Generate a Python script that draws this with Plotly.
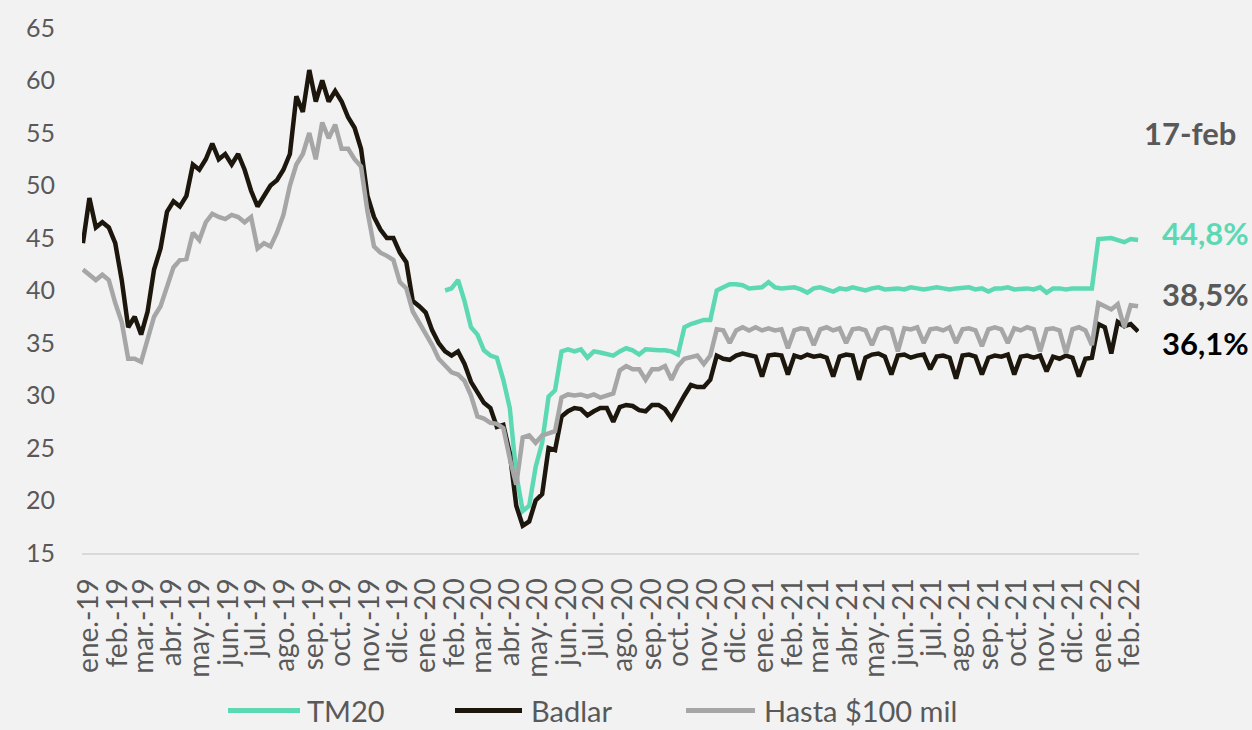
import pandas as pd
import plotly.graph_objects as go

# Weekly observations (%), first 2019-01-02, last point 2022-02-17
dates = list(pd.date_range("2019-01-02", periods=163, freq="7D")) + [pd.Timestamp("2022-02-17")]

badlar = [
    44.5, 48.8, 46.0, 46.5, 46.0, 44.5, 41.0, 36.5, 37.5, 35.8,
    38.0, 42.0, 44.0, 47.5, 48.5, 48.0, 49.0, 52.0, 51.5, 52.5,
    54.0, 52.5, 53.0, 52.0, 53.0, 51.5, 49.5, 48.0, 49.0, 50.0,
    50.5, 51.5, 53.0, 58.5, 57.0, 61.0, 58.0, 60.0, 58.0, 59.0,
    58.0, 56.5, 55.5, 53.5, 49.0, 47.0, 45.8, 45.0, 45.0, 43.6,
    42.7, 39.0, 38.5, 37.9, 36.2, 35.0, 34.2, 33.8, 34.2, 33.0,
    31.3, 30.2, 29.3, 28.8, 27.0, 27.2, 24.5, 19.5, 17.6, 18.0,
    20.0, 20.6, 25.0, 24.8, 28.0, 28.5, 28.8, 28.7, 28.1, 28.5,
    28.8, 28.8, 27.5, 28.9, 29.1, 29.0, 28.6, 28.5, 29.1, 29.1,
    28.7, 27.8, 29.0, 30.0, 31.0, 30.8, 30.8, 31.5, 33.8, 33.5,
    33.4, 33.8, 34.0, 33.8, 33.7, 31.8, 33.8, 33.9, 33.8, 32.0,
    33.8, 33.6, 33.9, 33.7, 33.8, 33.6, 31.8, 33.7, 33.9, 33.8,
    31.5, 33.6, 33.9, 34.0, 33.7, 32.0, 33.8, 33.9, 33.6, 33.8,
    33.9, 32.5, 33.7, 33.8, 33.6, 31.6, 33.8, 33.9, 33.7, 32.0,
    33.6, 33.8, 33.7, 33.9, 32.0, 33.7, 33.8, 33.6, 33.8, 32.3,
    33.7, 33.5, 33.8, 33.6, 31.8, 33.5, 33.6, 36.8, 36.5, 34.0,
    37.0, 36.6, 36.8, 36.1,
]

hasta_100 = [
    42.0, 41.5, 41.0, 41.5, 41.0, 38.8, 37.0, 33.5, 33.5, 33.2,
    35.5, 37.5, 38.5, 40.5, 42.2, 42.9, 43.0, 45.5, 44.8, 46.5,
    47.3, 47.0, 46.8, 47.2, 47.0, 46.5, 47.0, 44.0, 44.5, 44.2,
    45.5, 47.2, 50.0, 52.0, 53.0, 55.0, 52.5, 56.0, 54.5, 55.8,
    53.5, 53.5, 52.5, 51.8, 47.5, 44.2, 43.6, 43.3, 42.9, 40.8,
    40.2, 38.0, 37.0, 36.0, 34.8, 33.5, 32.8, 32.2, 32.0, 31.4,
    30.0, 28.0, 27.8, 27.4, 27.3, 26.9, 24.0, 21.5, 26.0, 26.2,
    25.5, 26.2, 26.4, 26.6, 29.8, 30.1, 30.0, 30.1, 29.9, 30.1,
    29.8, 30.0, 30.2, 32.4, 32.8, 32.5, 32.5, 31.5, 32.5, 32.5,
    32.8, 31.5, 32.8, 33.5, 33.6, 33.8, 33.0, 33.8, 36.3, 36.2,
    35.0, 36.2, 36.5, 36.2, 36.5, 36.2, 36.4, 36.2, 36.3, 34.5,
    36.2, 36.4, 36.3, 34.8, 36.3, 36.5, 36.2, 36.4, 35.0, 36.3,
    36.4, 36.2, 34.8, 36.3, 36.5, 36.3, 34.2, 36.4, 36.3, 36.5,
    35.0, 36.3, 36.4, 36.2, 36.5, 35.0, 36.3, 36.4, 36.2, 34.7,
    36.3, 36.5, 36.3, 35.0, 36.4, 36.2, 36.5, 36.3, 34.2, 36.3,
    36.4, 36.2, 34.0, 36.3, 36.5, 36.2, 34.8, 38.8, 38.5, 38.2,
    38.7, 36.5, 38.6, 38.5,
]

# TM20 series begins in late January 2020
tm20 = [None] * 56 + [
    40.0, 40.2, 41.0, 39.0,
    36.5, 35.8, 34.3, 33.8, 33.6, 31.5, 28.8, 22.5, 19.0, 19.5,
    23.2, 25.5, 29.9, 30.5, 34.2, 34.4, 34.2, 34.4, 33.6, 34.2,
    34.1, 34.0, 33.8, 34.2, 34.5, 34.3, 33.9, 34.4, 34.3, 34.3,
    34.3, 34.2, 33.9, 36.5, 36.8, 37.0, 37.2, 37.2, 40.0, 40.3,
    40.6, 40.6, 40.5, 40.2, 40.2, 40.3, 40.8, 40.3, 40.2, 40.2,
    40.3, 40.1, 39.8, 40.2, 40.3, 40.1, 39.9, 40.2, 40.1, 40.3,
    40.2, 40.0, 40.2, 40.3, 40.1, 40.2, 40.2, 40.1, 40.3, 40.2,
    40.1, 40.2, 40.3, 40.2, 40.1, 40.2, 40.2, 40.3, 40.1, 40.2,
    39.9, 40.2, 40.2, 40.3, 40.1, 40.2, 40.2, 40.1, 40.3, 39.8,
    40.2, 40.2, 40.1, 40.2, 40.2, 40.1, 40.2, 44.9, 45.0, 45.0,
    44.8, 44.6, 44.9, 44.8,
]

series_names = ["TM20", "Badlar", "Hasta $100 mil"]
series_values = [tm20, badlar, hasta_100]
series_colors = ["#5cd9b3", "#1c160c", "#a6a6a6"]

month_abbr = ["ene.", "feb.", "mar.", "abr.", "may.", "jun.",
              "jul.", "ago.", "sep.", "oct.", "nov.", "dic."]
tick_dates = list(pd.date_range("2019-01-01", "2022-02-01", freq="MS"))
tick_text = [f"{month_abbr[d.month - 1]}-{d.strftime('%y')}" for d in tick_dates]

y_ticks = list(range(15, 70, 5))
date_label = "17-feb"

W, H = 1252, 730
ML, MR, MT, MB = 82, 113, 20, 177
PW, PH = W - ML - MR, H - MT - MB
FONT = "Lato"
TXT = "#595959"


def px_x(px):
    return (px - ML) / PW


def px_y(py):
    return (H - MB - py) / PH


fig = go.Figure()
for name, vals, col in zip(series_names, series_values, series_colors):
    fig.add_trace(go.Scatter(
        x=dates, y=vals, mode="lines", name=name,
        line=dict(color=col, width=4.5), connectgaps=False,
        showlegend=False,
    ))

# Legend drawn as line swatches with labels below the axis
legend_items = [(228, 300, 305), (455, 522, 529), (686, 755, 762)]
for (x0, x1, xt), name, col in zip(legend_items, series_names, series_colors):
    fig.add_shape(type="line", xref="paper", yref="paper",
                  x0=px_x(x0), x1=px_x(x1), y0=px_y(713), y1=px_y(713),
                  line=dict(color=col, width=5))
    fig.add_annotation(xref="paper", yref="paper", x=px_x(xt), y=px_y(713),
                       text=name, showarrow=False, xanchor="left", yanchor="middle",
                       font=dict(family=FONT, size=29, color=TXT))

# Latest values at the right edge: (series, vertical position, colour)
fig.add_annotation(xref="paper", yref="paper", x=px_x(1190), y=px_y(127),
                   text=date_label, showarrow=False, xanchor="center", yanchor="middle",
                   font=dict(family=FONT, size=31, color=TXT, weight="bold"))
end_labels = [(tm20, 228, "#5cd9b3"), (hasta_100, 290, "#595959"), (badlar, 340, "#000000")]
for vals, py, col in end_labels:
    txt = f"{vals[-1]:.1f}%".replace(".", ",")
    fig.add_annotation(xref="paper", yref="paper", x=px_x(1205), y=px_y(py),
                       text=txt, showarrow=False, xanchor="center", yanchor="middle",
                       font=dict(family=FONT, size=31, color=col, weight="bold"))

fig.update_layout(
    width=W, height=H,
    margin=dict(l=ML, r=MR, t=MT, b=MB, pad=0),
    paper_bgcolor="#f2f2f2", plot_bgcolor="#f2f2f2",
    showlegend=False,
    xaxis=dict(
        type="date",
        range=["2019-01-01", "2022-02-18"],
        tickmode="array", tickvals=tick_dates, ticktext=tick_text,
        tickangle=-90, ticks="", showgrid=False, zeroline=False,
        showline=True, linecolor="#d9d9d9", linewidth=2,
        tickfont=dict(family=FONT, size=28, color=TXT),
        ticklabelstandoff=12, ticklabelshift=7,
    ),
    yaxis=dict(
        range=[15, 65], tickmode="array", tickvals=y_ticks,
        ticks="", showgrid=False, zeroline=False, showline=False,
        tickfont=dict(family=FONT, size=25, color=TXT),
        ticklabelstandoff=26,
    ),
)

fig.write_html("out.html")
